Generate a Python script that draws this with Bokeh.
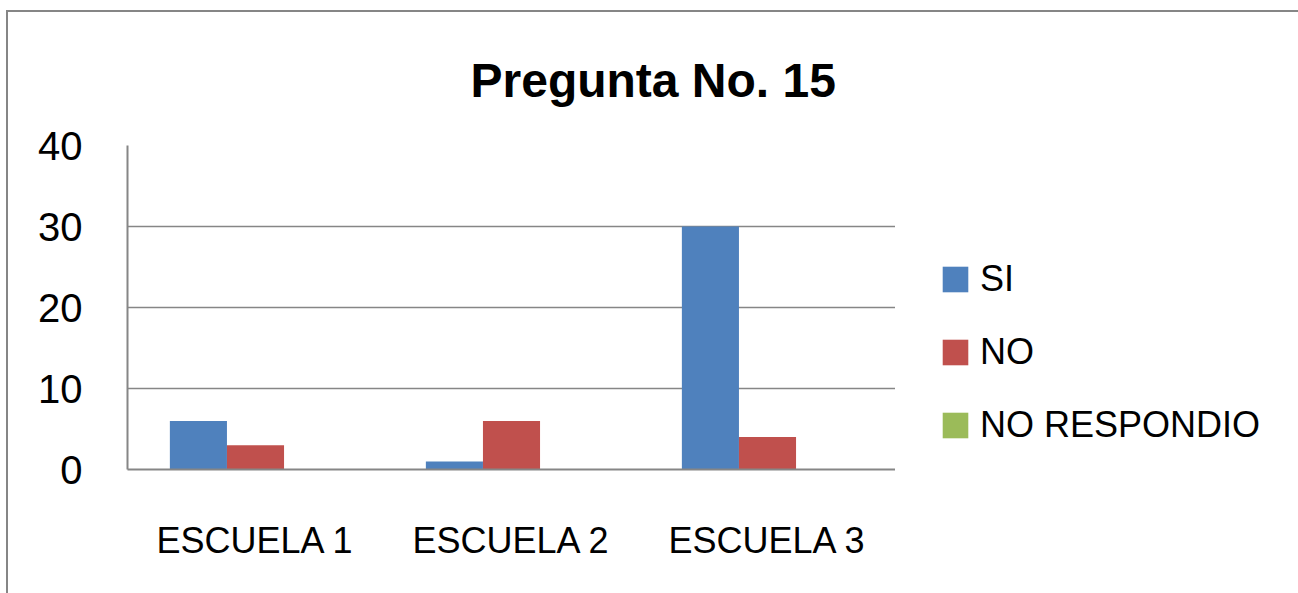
from bokeh.plotting import figure
from bokeh.models import FactorRange, Range1d, Legend, LegendItem, ColumnDataSource, FixedTicker
from bokeh.layouts import row
from bokeh.transform import dodge
from bokeh.embed import file_html
from bokeh.resources import INLINE

categories = ["ESCUELA 1", "ESCUELA 2", "ESCUELA 3"]
series_names = ["SI", "NO", "NO RESPONDIO"]
si_values = [6, 1, 30]
no_values = [3, 6, 4]
nr_values = [0, 0, 0]
y_ticks = [0, 10, 20, 30, 40]
colors = ["#4F81BD", "#C0504D", "#9BBB59"]

FONT = "Liberation Sans"

src = ColumnDataSource(dict(cat=categories, si=si_values, no=no_values, nr=nr_values))

p = figure(
    width=887, height=581,
    x_range=FactorRange(*categories, range_padding=0),
    y_range=Range1d(0, 40),
    output_backend="svg", toolbar_location=None,
    min_border_left=119, min_border_right=0,
    min_border_top=133, min_border_bottom=124,
    title="Pregunta No. 15",
)
p.outline_line_color = None
p.background_fill_color = "white"
p.border_fill_color = "white"

bw = 0.223
r_si = p.vbar(x=dodge("cat", -bw, range=p.x_range), top="si", width=bw, source=src,
              fill_color=colors[0], line_color=None)
r_no = p.vbar(x=dodge("cat", 0, range=p.x_range), top="no", width=bw, source=src,
              fill_color=colors[1], line_color=None)
r_nr = p.vbar(x=dodge("cat", bw, range=p.x_range), top="nr", width=bw, source=src,
              fill_color=colors[2], line_color=None)

# axes
p.yaxis.ticker = FixedTicker(ticks=y_ticks)
p.yaxis.major_tick_line_color = None
p.yaxis.minor_tick_line_color = None
p.yaxis.major_tick_out = 0
p.yaxis.major_tick_in = 0
p.yaxis.axis_line_color = "#868686"
p.yaxis.axis_line_width = 2
p.yaxis.major_label_standoff = 45
p.yaxis.major_label_text_font = FONT
p.yaxis.major_label_text_font_size = "40px"
p.yaxis.major_label_text_color = "black"

p.xaxis.major_tick_line_color = None
p.xaxis.major_tick_out = 0
p.xaxis.major_tick_in = 0
p.xaxis.axis_line_color = "#868686"
p.xaxis.axis_line_width = 2
p.xaxis.major_label_standoff = 50
p.xaxis.major_label_text_font = FONT
p.xaxis.major_label_text_font_size = "36px"
p.xaxis.major_label_text_color = "black"

p.xgrid.grid_line_color = None
p.ygrid.grid_line_color = "#868686"
p.ygrid.grid_line_width = 1.5

# title
p.title.text_font = FONT
p.title.text_font_size = "48px"
p.title.text_font_style = "bold"
p.title.align = "left"
p.title.offset = 343
p.title.standoff = 77
p.title.text_color = "black"

# legend panel (separate canvas to the right of the plot area)
lg = figure(width=403, height=581, x_range=Range1d(0, 1), y_range=Range1d(0, 1),
            x_axis_type=None, y_axis_type=None, output_backend="svg",
            toolbar_location=None, min_border=0)
lg.outline_line_color = None
lg.grid.visible = False
lg.border_fill_color = "white"
# swatch sources: one point each, placed outside the visible range
sw_si = ColumnDataSource(dict(x=[-5], top=[0]))
sw_no = ColumnDataSource(dict(x=[-5], top=[0]))
sw_nr = ColumnDataSource(dict(x=[-5], top=[0]))
l_si = lg.vbar(x="x", top="top", width=0.1, source=sw_si, fill_color=colors[0], line_color=None)
l_no = lg.vbar(x="x", top="top", width=0.1, source=sw_no, fill_color=colors[1], line_color=None)
l_nr = lg.vbar(x="x", top="top", width=0.1, source=sw_nr, fill_color=colors[2], line_color=None)

legend = Legend(
    items=[LegendItem(label=series_names[0], renderers=[l_si]),
           LegendItem(label=series_names[1], renderers=[l_no]),
           LegendItem(label=series_names[2], renderers=[l_nr])],
    location=(44, 23),
    glyph_width=32, glyph_height=32,
    label_text_font=FONT, label_text_font_size="36px", label_text_color="black",
    label_standoff=9, spacing=31, padding=0, margin=0,
    border_line_color=None, background_fill_alpha=0,
)
lg.add_layout(legend, "center")

layout = row(p, lg, spacing=0)
layout.styles = {"border-top": "2px solid #868686", "border-left": "2px solid #868686",
                 "margin-left": "6px", "margin-top": "10px"}

open("out.html", "w").write(file_html(layout, INLINE))
